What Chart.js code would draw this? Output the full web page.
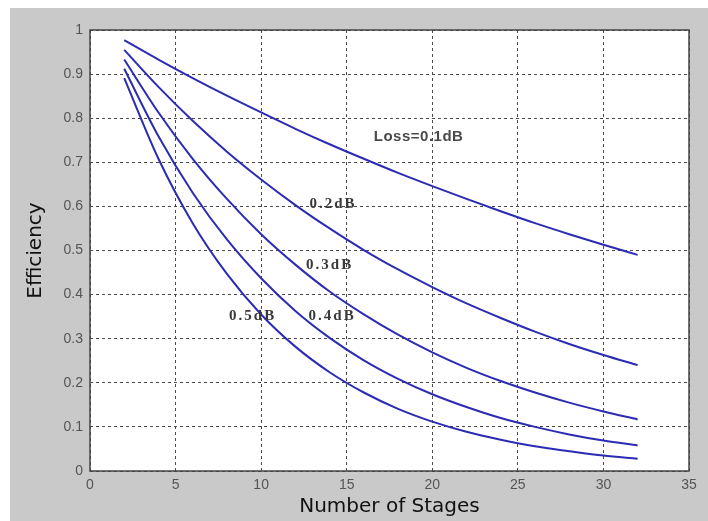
<!DOCTYPE html>
<html>
<head>
<meta charset="utf-8">
<script src="https://cdn.jsdelivr.net/npm/chart.js@4.4.1/dist/chart.umd.min.js"></script>
<style>
    html, body { margin: 0; padding: 0; background: #fff; }
    #wrap { width: 708px; height: 521px; }
</style>
</head>
<body>
<div id="wrap"><canvas id="effChart" width="708" height="521"></canvas></div>
<script>
// Number of stages (x) and efficiency per loss per stage
const stages = [2, 4, 6, 8, 10, 12, 14, 16, 18, 20, 22, 24, 26, 28, 30, 32];
const loss01 = [0.977, 0.933, 0.891, 0.851, 0.813, 0.776, 0.741, 0.708, 0.676, 0.646, 0.617, 0.589, 0.562, 0.537, 0.513, 0.490];
const loss02 = [0.955, 0.871, 0.794, 0.724, 0.661, 0.603, 0.550, 0.501, 0.457, 0.417, 0.380, 0.347, 0.316, 0.288, 0.263, 0.240];
const loss03 = [0.933, 0.813, 0.708, 0.617, 0.537, 0.468, 0.407, 0.355, 0.309, 0.269, 0.234, 0.204, 0.178, 0.155, 0.135, 0.117];
const loss04 = [0.912, 0.759, 0.631, 0.525, 0.437, 0.363, 0.302, 0.251, 0.209, 0.174, 0.145, 0.120, 0.100, 0.083, 0.069, 0.058];
const loss05 = [0.891, 0.708, 0.562, 0.447, 0.355, 0.282, 0.224, 0.178, 0.141, 0.112, 0.089, 0.071, 0.056, 0.045, 0.035, 0.028];

const xTickLabels = ['0', '5', '10', '15', '20', '25', '30', '35'];
const yTickLabels = ['0', '0.1', '0.2', '0.3', '0.4', '0.5', '0.6', '0.7', '0.8', '0.9', '1'];

// In-plot curve labels (data coordinates of the text centre)
const curveLabels = ['Loss=0.1dB', '0.2dB', '0.3dB', '0.4dB', '0.5dB'];
const curveLabelX = [19.2, 14.2, 14.0, 14.15, 9.5];
const curveLabelY = [0.757, 0.605, 0.467, 0.351, 0.351];

const lineColor = '#2b2bb3';

function toPoints(ys) {
    return stages.map((x, i) => ({ x: x, y: ys[i] }));
}

// Gray figure background, white axes box and frame
const figureBackground = {
    id: 'figureBackground',
    beforeDraw(chart) {
        const { ctx, chartArea } = chart;
        ctx.save();
        ctx.fillStyle = '#ffffff';
        ctx.fillRect(0, 0, chart.width, chart.height);
        ctx.fillStyle = '#c9c9c9';
        ctx.fillRect(10, 8, chart.width - 10, chart.height - 8);
        ctx.fillStyle = '#ffffff';
        ctx.fillRect(chartArea.left, chartArea.top, chartArea.right - chartArea.left, chartArea.bottom - chartArea.top);
        ctx.restore();
    },
    afterDraw(chart) {
        const { ctx, chartArea, scales } = chart;
        ctx.save();
        ctx.strokeStyle = '#444';
        ctx.lineWidth = 1.5;
        ctx.strokeRect(chartArea.left, chartArea.top, chartArea.right - chartArea.left, chartArea.bottom - chartArea.top);

        // curve labels
        ctx.textAlign = 'center';
        ctx.textBaseline = 'middle';
        curveLabels.forEach((text, i) => {
            const px = scales.x.getPixelForValue(curveLabelX[i]);
            const py = scales.y.getPixelForValue(curveLabelY[i]);
            if (i === 0) {
                ctx.font = 'bold 15px "Liberation Sans", Arial, sans-serif';
                ctx.letterSpacing = '0.5px';
                ctx.fillStyle = '#4a4a4a';
            } else {
                ctx.font = 'bold 15px "Liberation Serif", "Times New Roman", serif';
                ctx.letterSpacing = '2px';
                ctx.fillStyle = '#3a3a3a';
            }
            ctx.fillText(text, px, py);
        });
        ctx.restore();
    }
};

const seriesList = [loss01, loss02, loss03, loss04, loss05];

new Chart(document.getElementById('effChart'), {
    type: 'line',
    data: {
        datasets: seriesList.map((ys, i) => ({
            label: curveLabels[i],
            data: toPoints(ys),
            borderColor: lineColor,
            borderWidth: 2,
            pointRadius: 0,
            fill: false,
            cubicInterpolationMode: 'monotone'
        }))
    },
    options: {
        responsive: false,
        animation: false,
        layout: {
            padding: { left: 0, top: 30, right: 19, bottom: 0 }
        },
        plugins: {
            legend: { display: false },
            tooltip: { enabled: false }
        },
        scales: {
            x: {
                type: 'linear',
                min: 0,
                max: 35,
                ticks: {
                    stepSize: 5,
                    padding: 6,
                    color: '#555',
                    font: { family: '"Liberation Sans", Arial, sans-serif', size: 14 },
                    callback: (v, i) => xTickLabels[i]
                },
                grid: { color: '#4a4a4a', drawTicks: false, lineWidth: 1 },
                border: { display: false, dash: [3, 3] },
                title: {
                    display: true,
                    text: 'Number of Stages',
                    color: '#111',
                    font: { family: '"DejaVu Sans", sans-serif', size: 20 },
                    padding: { top: 0, bottom: 2 }
                },
                afterFit(scale) { scale.height = 50; }
            },
            y: {
                min: 0,
                max: 1,
                ticks: {
                    stepSize: 0.1,
                    padding: 7,
                    color: '#555',
                    font: { family: '"Liberation Sans", Arial, sans-serif', size: 14 },
                    callback: (v, i) => yTickLabels[i]
                },
                grid: { color: '#4a4a4a', drawTicks: false, lineWidth: 1 },
                border: { display: false, dash: [3, 3] },
                title: {
                    display: true,
                    text: 'Efficiency',
                    color: '#111',
                    font: { family: '"DejaVu Sans", sans-serif', size: 20 },
                    padding: { top: 24, bottom: 0 }
                },
                afterFit(scale) { scale.width = 90; }
            }
        }
    },
    plugins: [figureBackground]
});
</script>
</body>
</html>
